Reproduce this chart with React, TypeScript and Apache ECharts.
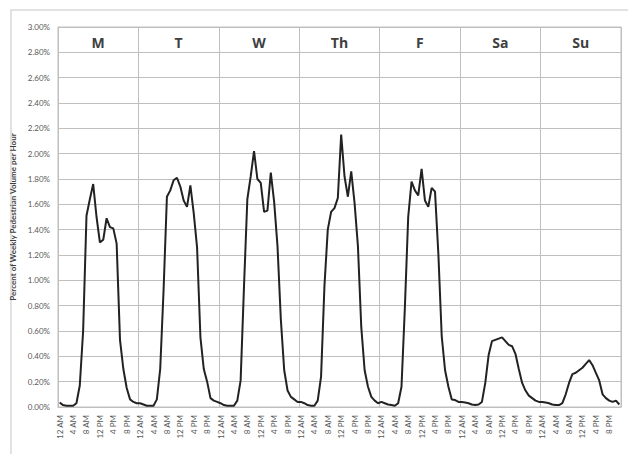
import React, { useEffect, useRef } from "react";
import * as echarts from "echarts";

const DAYS = ["M", "T", "W", "Th", "F", "Sa", "Su"];
const HOURS = [
  "12 AM", "1 AM", "2 AM", "3 AM", "4 AM", "5 AM", "6 AM", "7 AM", "8 AM", "9 AM", "10 AM", "11 AM",
  "12 PM", "1 PM", "2 PM", "3 PM", "4 PM", "5 PM", "6 PM", "7 PM", "8 PM", "9 PM", "10 PM", "11 PM",
];
const Y_AXIS_TITLE = "Percent of Weekly Pedestrian Volume per Hour";

// Percent of weekly pedestrian volume, one value per hour
const MON = [0.035, 0.015, 0.01, 0.01, 0.01, 0.03, 0.17, 0.6, 1.51, 1.64, 1.76, 1.5, 1.3, 1.32, 1.49, 1.42, 1.41, 1.29, 0.53, 0.3, 0.15, 0.06, 0.04, 0.03];
const TUE = [0.03, 0.02, 0.01, 0.01, 0.01, 0.06, 0.3, 0.92, 1.66, 1.71, 1.79, 1.81, 1.74, 1.63, 1.58, 1.75, 1.53, 1.26, 0.55, 0.3, 0.2, 0.07, 0.05, 0.04];
const WED = [0.03, 0.015, 0.01, 0.01, 0.01, 0.05, 0.21, 0.95, 1.64, 1.82, 2.02, 1.8, 1.77, 1.54, 1.55, 1.85, 1.62, 1.27, 0.69, 0.29, 0.13, 0.08, 0.06, 0.04];
const THU = [0.04, 0.03, 0.015, 0.01, 0.01, 0.05, 0.24, 0.95, 1.4, 1.54, 1.57, 1.65, 2.15, 1.82, 1.66, 1.86, 1.61, 1.27, 0.63, 0.29, 0.16, 0.08, 0.05, 0.03];
const FRI = [0.04, 0.03, 0.02, 0.015, 0.01, 0.03, 0.16, 0.78, 1.5, 1.78, 1.71, 1.67, 1.88, 1.63, 1.58, 1.73, 1.7, 1.21, 0.56, 0.29, 0.16, 0.06, 0.055, 0.04];
const SAT = [0.04, 0.035, 0.03, 0.02, 0.015, 0.02, 0.04, 0.19, 0.41, 0.52, 0.53, 0.54, 0.55, 0.52, 0.49, 0.48, 0.42, 0.3, 0.19, 0.13, 0.09, 0.07, 0.05, 0.04];
const SUN = [0.04, 0.035, 0.03, 0.02, 0.015, 0.015, 0.03, 0.1, 0.19, 0.26, 0.27, 0.29, 0.31, 0.34, 0.37, 0.33, 0.27, 0.21, 0.1, 0.07, 0.05, 0.04, 0.05, 0.02];

export default function App() {
  const ref = useRef<HTMLDivElement>(null);

  useEffect(() => {
    if (!ref.current) return;
    const chart = echarts.init(ref.current, null, { renderer: "svg" });
    const categories = DAYS.flatMap((d) => HOURS.map((h) => `${d} ${h}`));
    const values = [...MON, ...TUE, ...WED, ...THU, ...FRI, ...SAT, ...SUN];
    const grid = "#bfbfbf";

    chart.setOption({
      animation: false,
      backgroundColor: "#ffffff",
      graphic: [
        {
          type: "rect",
          silent: true,
          z: -10,
          shape: { x: 11, y: 10, width: 700, height: 500 },
          style: { fill: "none", stroke: "#d9d9d9", lineWidth: 1.5 },
        },
      ],
      grid: {
        left: 58,
        top: 27,
        width: 563,
        height: 380,
        show: true,
        borderColor: grid,
        borderWidth: 1,
        backgroundColor: "transparent",
      },
      xAxis: [
        {
          type: "category",
          data: categories,
          boundaryGap: true,
          axisLine: { show: true, lineStyle: { color: grid, width: 1 } },
          axisTick: { show: false },
          axisLabel: {
            interval: 3,
            rotate: 90,
            fontSize: 8,
            color: "#595959",
            margin: 8,
            fontFamily: "Lato",
            formatter: (v: string) => v.slice(v.indexOf(" ") + 1),
          },
          splitLine: {
            show: true,
            interval: (i: number) => i % 24 === 0,
            lineStyle: { color: grid, width: 1 },
          },
        },
        {
          type: "category",
          data: DAYS,
          position: "top",
          axisLine: { show: false },
          axisTick: { show: false },
          splitLine: { show: false },
          axisLabel: {
            inside: true,
            margin: 8,
            fontSize: 14,
            fontWeight: "bold",
            color: "#404040",
            fontFamily: "Open Sans",
          },
        },
      ],
      yAxis: {
        type: "value",
        min: 0,
        max: 3,
        interval: 0.2,
        name: Y_AXIS_TITLE,
        nameLocation: "middle",
        nameGap: 36,
        nameRotate: 90,
        nameTextStyle: { fontSize: 8, fontWeight: "bold", color: "#404040", fontFamily: "Lato" },
        axisLine: { show: true, lineStyle: { color: grid } },
        axisTick: { show: false },
        axisLabel: {
          fontSize: 8,
          color: "#595959",
          margin: 8,
          fontFamily: "Lato",
          formatter: (v: number) => `${v.toFixed(2)}%`,
        },
        splitLine: { show: true, lineStyle: { color: grid, width: 1 } },
      },
      series: [
        {
          type: "line",
          data: values,
          xAxisIndex: 0,
          symbol: "none",
          showSymbol: false,
          lineStyle: { color: "#222222", width: 2 },
        },
      ],
    });

    return () => chart.dispose();
  }, []);

  return (
    <div
      ref={ref}
      style={{ position: "fixed", left: 0, top: 0, width: 628, height: 454, background: "#fff" }}
    />
  );
}
